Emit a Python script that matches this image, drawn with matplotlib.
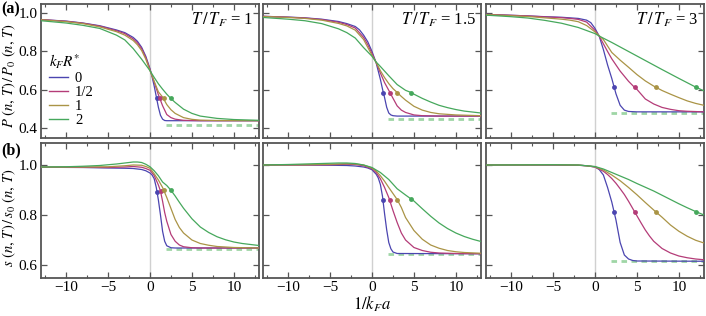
import numpy as np
import matplotlib
matplotlib.use("Agg")
import matplotlib.pyplot as plt
from matplotlib.lines import Line2D
from matplotlib.ticker import MultipleLocator

plt.rcParams['font.family'] = 'serif'
plt.rcParams['font.serif'] = ['Liberation Serif', 'DejaVu Serif']
plt.rcParams['mathtext.fontset'] = 'stix'

# ---------------- data ----------------
temps = ["1", "1.5", "3"]
kR_labels = ["0", "1/2", "1", "2"]
colors = ["#4b45b0", "#b43c78", "#aa9446", "#46a85c"]

# Panel (a): pressure ratio, T/TF = 1
a1_x0 = [-13,-10,-8,-6,-4,-3,-2,-1.5,-1,-0.5,0,0.25,0.5,0.75,1,1.25,1.5,1.75,2,2.5,4,13]
a1_y0 = [0.966,0.958,0.948,0.934,0.912,0.898,0.873,0.853,0.822,0.775,0.71,0.668,0.62,0.565,0.51,0.468,0.448,0.441,0.44,0.44,0.44,0.44]
a1_x1 = [-13,-10,-8,-6,-4,-3,-2,-1.5,-1,-0.5,0,0.5,1,1.5,2,2.5,3,4,6,13]
a1_y1 = [0.966,0.957,0.947,0.932,0.908,0.893,0.865,0.845,0.815,0.768,0.706,0.64,0.575,0.518,0.472,0.456,0.448,0.442,0.44,0.44]
a1_x2 = [-13,-10,-8,-6,-4,-3,-2,-1.5,-1,-0.5,0,0.5,1,1.5,2,2.5,3,4,5,6,8,13]
a1_y2 = [0.965,0.955,0.945,0.928,0.903,0.885,0.857,0.835,0.805,0.76,0.70,0.645,0.59,0.563,0.524,0.497,0.478,0.456,0.447,0.443,0.441,0.44]
a1_x3 = [-13,-10,-8,-6,-4,-3,-2,-1,-0.5,0,0.5,1,1.5,2,2.5,3,4,5,6,8,10,13]
a1_y3 = [0.960,0.948,0.936,0.92,0.885,0.86,0.815,0.76,0.73,0.70,0.665,0.632,0.604,0.578,0.555,0.535,0.50,0.478,0.464,0.452,0.446,0.442]

# T/TF = 1.5
a2_x0 = [-13,-10,-8,-6,-4,-3,-2,-1.5,-1,-0.5,0,0.5,1,1.25,1.5,1.75,2,2.25,2.5,3,4,13]
a2_y0 = [0.983,0.979,0.975,0.968,0.956,0.945,0.93,0.913,0.885,0.85,0.80,0.74,0.655,0.605,0.56,0.51,0.48,0.47,0.466,0.464,0.464,0.464]
a2_x1 = [-13,-10,-8,-6,-4,-3,-2,-1,-0.5,0,0.5,1,1.5,2,2.5,3,3.5,4,5,6,8,13]
a2_y1 = [0.983,0.978,0.974,0.966,0.952,0.94,0.922,0.873,0.835,0.79,0.742,0.688,0.638,0.598,0.557,0.517,0.495,0.483,0.47,0.466,0.464,0.464]
a2_x2 = [-13,-10,-8,-6,-4,-3,-2,-1,0,0.5,1,1.5,2,2.5,3,3.5,4,5,6,7,8,10,13]
a2_y2 = [0.982,0.977,0.972,0.963,0.946,0.933,0.911,0.862,0.78,0.742,0.70,0.664,0.633,0.607,0.587,0.566,0.547,0.515,0.495,0.483,0.476,0.47,0.466]
a2_x3 = [-13,-10,-8,-6,-4,-3,-2,-1,0,0.5,1,2,3,4,4.7,5,6,7,8,9,10,11,13]
a2_y3 = [0.977,0.968,0.96,0.945,0.918,0.898,0.87,0.82,0.775,0.745,0.722,0.674,0.628,0.598,0.586,0.578,0.556,0.537,0.52,0.508,0.498,0.49,0.48]

# T/TF = 3
a3_x0 = [-13,-8,-6,-4,-3,-2,-1,-0.5,0,0.5,1,1.5,2,2.5,3,3.5,4,5,13]
a3_y0 = [0.993,0.985,0.981,0.978,0.975,0.972,0.963,0.95,0.92,0.88,0.81,0.73,0.66,0.58,0.52,0.495,0.488,0.486,0.486]
a3_x1 = [-13,-8,-6,-4,-3,-2,-1,0,0.5,1,1.5,2,3,4,4.7,5,6,7,8,9,10,11,13]
a3_y1 = [0.993,0.985,0.98,0.976,0.972,0.967,0.953,0.91,0.88,0.84,0.80,0.762,0.698,0.645,0.614,0.603,0.553,0.527,0.509,0.499,0.492,0.489,0.486]
a3_x2 = [-13,-8,-6,-4,-3,-2,-1,0,0.6,1,2,3,4,5,6,7,8,9,10,11,12,13]
a3_y2 = [0.992,0.982,0.975,0.968,0.963,0.955,0.935,0.902,0.878,0.862,0.795,0.755,0.718,0.68,0.647,0.62,0.597,0.578,0.56,0.543,0.53,0.52]
a3_x3 = [-13,-10,-8,-6,-4,-2,0,0.6,2,4,6,8,10,12,13]
a3_y3 = [0.989,0.981,0.974,0.962,0.947,0.925,0.893,0.878,0.847,0.80,0.753,0.706,0.66,0.615,0.595]

# Panel (b): entropy ratio, T/TF = 1
b1_x0 = [-13,-8,-5,-3,-2,-1,-0.5,0,0.25,0.5,0.75,1,1.25,1.5,1.75,2,2.5,3,13]
b1_y0 = [0.991,0.99,0.988,0.987,0.986,0.982,0.977,0.968,0.96,0.945,0.91,0.86,0.80,0.735,0.695,0.677,0.669,0.668,0.668]
b1_x1 = [-13,-8,-5,-3,-2,-1,-0.5,0,0.5,1,1.25,1.5,1.75,2,2.5,3,3.5,4,5,6,13]
b1_y1 = [0.991,0.991,0.99,0.992,0.994,0.991,0.986,0.979,0.958,0.92,0.896,0.855,0.81,0.775,0.722,0.695,0.68,0.673,0.669,0.668,0.668]
b1_x2 = [-13,-8,-5,-3,-2,-1,-0.5,0,0.5,1,1.5,2,2.5,3,3.5,4,5,6,7,8,10,13]
b1_y2 = [0.992,0.992,0.993,0.997,1.0,0.999,0.994,0.987,0.965,0.94,0.91,0.87,0.826,0.782,0.75,0.728,0.70,0.686,0.679,0.674,0.67,0.668]
b1_x3 = [-13,-10,-8,-6,-4,-3,-2,-1.5,-1,-0.5,0,0.5,1,1.5,2,2.5,3,3.5,4,5,6,7,8,9,10,11,13]
b1_y3 = [0.992,0.993,0.995,0.998,1.004,1.008,1.012,1.012,1.01,1.003,0.993,0.977,0.957,0.932,0.918,0.899,0.876,0.851,0.827,0.785,0.752,0.73,0.713,0.701,0.692,0.686,0.678]

# T/TF = 1.5
b2_x0 = [-13,-8,-5,-3,-2,-1,-0.5,0,0.5,0.75,1,1.25,1.5,1.75,2,2.25,2.5,3,13]
b2_y0 = [1.0,1.0,0.999,0.998,0.996,0.992,0.988,0.981,0.963,0.948,0.922,0.875,0.805,0.741,0.69,0.665,0.652,0.646,0.645]
b2_x1 = [-13,-8,-5,-3,-2,-1,0,0.5,1,1.5,2,2.5,3,3.5,4,5,6,7,8,10,13]
b2_y1 = [1.0,1.0,1.001,1.003,1.002,0.997,0.985,0.97,0.945,0.91,0.87,0.818,0.77,0.728,0.70,0.67,0.658,0.651,0.648,0.646,0.645]
b2_x2 = [-13,-8,-5,-3,-2,-1,0,0.5,1,1.5,2,2.5,3,3.5,4,5,6,7,8,9,10,11,13]
b2_y2 = [1.0,1.001,1.003,1.005,1.004,1.0,0.988,0.976,0.957,0.935,0.91,0.886,0.862,0.83,0.79,0.738,0.703,0.68,0.667,0.658,0.653,0.65,0.647]
b2_x3 = [-13,-10,-8,-6,-4,-3,-2,-1,0,1,2,3,4,5,6,7,8,9,10,11,12,13]
b2_y3 = [1.0,1.002,1.004,1.006,1.008,1.008,1.006,1.0,0.99,0.97,0.942,0.905,0.88,0.856,0.825,0.795,0.768,0.746,0.728,0.714,0.703,0.694]

# T/TF = 3
b3_x0 = [-13,-5,-2,-1,0,0.5,1,1.5,2,2.5,3,3.5,4,4.5,5,13]
b3_y0 = [1.0,1.0,0.999,0.997,0.992,0.982,0.96,0.91,0.852,0.78,0.69,0.64,0.624,0.618,0.616,0.615]
b3_x1 = [-13,-5,-2,-1,0,1,1.5,2,2.5,3,3.5,4,4.5,5,5.5,6,6.5,7,8,9,10,11,12,13]
b3_y1 = [1.0,1.0,0.999,0.997,0.992,0.975,0.962,0.946,0.927,0.905,0.882,0.855,0.826,0.797,0.768,0.74,0.716,0.695,0.666,0.648,0.636,0.629,0.624,0.621]
b3_x2 = [-13,-5,-2,0,1,2,3,4,5,6,7,8,9,10,11,12,13]
b3_y2 = [1.0,1.001,1.0,0.993,0.98,0.96,0.937,0.91,0.881,0.85,0.82,0.791,0.76,0.735,0.715,0.699,0.688]
b3_x3 = [-13,-5,-2,0,1,2,3,4,5,6,7,8,9,10,11,12,13]
b3_y3 = [1.0,1.001,1.0,0.994,0.984,0.97,0.956,0.942,0.926,0.911,0.896,0.879,0.862,0.845,0.829,0.814,0.80]

# marked points
mark_x = [[0.79, 1.19, 1.63, 2.46], [1.35, 2.18, 3.02, 4.68], [2.26, 4.72, 7.22, 12.06]]
mark_a_y = [[0.556]*4, [0.586]*4, [0.614]*4]
mark_b_x = [[0.87, 1.27, 1.67, 2.46], [1.31, 2.14, 3.02, 4.68], [2.30, 4.72, 7.22, 12.06]]
mark_b_y = [[0.891, 0.896, 0.899, 0.901], [0.859, 0.861, 0.862, 0.864], [0.813]*4]

# dashed asymptotes (start x, level)
dash_a = [(1.85, 0.42), (1.94, 0.45), (1.87, 0.481)]
dash_b = [(1.87, 0.665), (1.94, 0.643), (1.94, 0.615)]

curves_a = [[(a1_x0, a1_y0), (a1_x1, a1_y1), (a1_x2, a1_y2), (a1_x3, a1_y3)],
            [(a2_x0, a2_y0), (a2_x1, a2_y1), (a2_x2, a2_y2), (a2_x3, a2_y3)],
            [(a3_x0, a3_y0), (a3_x1, a3_y1), (a3_x2, a3_y2), (a3_x3, a3_y3)]]
curves_b = [[(b1_x0, b1_y0), (b1_x1, b1_y1), (b1_x2, b1_y2), (b1_x3, b1_y3)],
            [(b2_x0, b2_y0), (b2_x1, b2_y1), (b2_x2, b2_y2), (b2_x3, b2_y3)],
            [(b3_x0, b3_y0), (b3_x1, b3_y1), (b3_x2, b3_y2), (b3_x3, b3_y3)]]

# ---------------- figure ----------------
W, H = 706, 316
fig = plt.figure(figsize=(W/100, H/100), dpi=100)
lefts = [41, 263, 486]
pw = 218
rows = [(4, 138), (143, 278)]
frame_col = "#555555"

def make_ax(col, row):
    l = lefts[col]
    t, b = rows[row]
    ax = fig.add_axes([l/W, (H-b)/H, pw/W, (b-t)/H])
    for s in ax.spines.values():
        s.set_color(frame_col)
        s.set_linewidth(1.3)
    ax.set_xlim(-13, 13)
    ax.xaxis.set_major_locator(MultipleLocator(5))
    ax.xaxis.set_minor_locator(MultipleLocator(2.5))
    ax.tick_params(which='both', direction='in', top=True, right=True,
                   color=frame_col, labelsize=11, pad=2.5)
    ax.tick_params(which='major', length=4, width=0.9)
    ax.tick_params(which='minor', length=2.5, width=0.8)
    ax.axvline(0, color="#d0d0d0", lw=1.0, zorder=0)
    return ax

for col in range(3):
    for row, (curves, marks_x, marks_y, dash) in enumerate(
            [(curves_a, mark_x, mark_a_y, dash_a), (curves_b, mark_b_x, mark_b_y, dash_b)]):
        ax = make_ax(col, row)
        if row == 0:
            ax.set_ylim(0.35, 1.047)
        else:
            ax.set_ylim(0.548, 1.088)
        ax.yaxis.set_major_locator(MultipleLocator(0.2))
        x0d, yd = dash[col]
        ax.plot([x0d, 13], [yd, yd], color="#9fd6a6", lw=2.0, dashes=(2.0, 1.6), zorder=1)
        for k, (xs, ys) in enumerate(curves[col]):
            ax.plot(xs, ys, color=colors[k], lw=0.9, zorder=3)
            ax.plot([marks_x[col][k]], [marks_y[col][k]], 'o', color=colors[k], ms=3.5,
                    mew=0, zorder=4)
        if col == 0:
            ax.yaxis.set_major_formatter(matplotlib.ticker.FormatStrFormatter('%.1f'))
        else:
            ax.set_yticklabels([])
        if row == 0:
            ax.set_xticklabels([])
            ax.text(0.975, 0.95, r"$T\,/\,T_F$ = " + temps[col], transform=ax.transAxes,
                    ha='right', va='top', fontsize=12)
        else:
            ax.set_xticks([-10, -5, 0, 5, 10])
            ax.set_xticklabels(["\u221210", "\u22125", "0", "5", "10"])
        if col == 0 and row == 0:
            ax.set_ylabel(r"$P\ (n,\,T)\,/\,P_0\ (n,\,T)$", fontsize=10.5)
            ax.yaxis.set_label_coords(-0.105, 0.47)
            handles = [Line2D([], [], color=c, lw=1.0) for c in colors]
            leg = ax.legend(handles, kR_labels, title=r"$k_F R^{*}$", loc='upper left',
                            bbox_to_anchor=(0.035, 0.64), frameon=False, fontsize=10.5,
                            title_fontsize=11, handlelength=1.3, handletextpad=0.5,
                            labelspacing=0.05, borderaxespad=0.0, borderpad=0.0)
            leg._legend_box.align = "left"
        if col == 0 and row == 1:
            ax.set_ylabel(r"$s\ (n,\,T)\,/\,s_0\ (n,\,T)$", fontsize=10.5)
            ax.yaxis.set_label_coords(-0.105, 0.45)

fig.text(1/W, 1 - 9/H, "(a)", fontsize=11.5, fontweight='bold', va='center', ha='left')
fig.text(1/W, 1 - 150/H, "(b)", fontsize=11.5, fontweight='bold', va='center', ha='left')
fig.text(372/W, 1 - 304/H, r"$1/k_F a$", fontsize=12, ha='center', va='center')

fig.savefig("out.png", dpi=100)
